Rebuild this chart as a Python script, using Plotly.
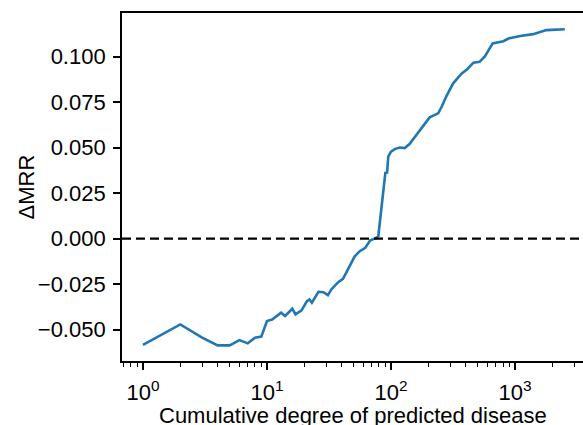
import plotly.graph_objects as go

degree = [1, 2, 3, 4, 5, 6, 7, 8, 9, 10, 11, 13, 14, 16, 17, 19, 21, 22, 23, 26,
          28.5, 31, 33, 37.5, 41, 45, 51, 56, 62, 68, 74, 79, 80.5, 82, 84, 87, 90,
          93, 95, 100, 108, 118, 129, 141, 156, 171, 184, 205, 240, 256, 280, 317,
          372, 409, 462, 518, 573, 660, 806, 885, 1100, 1400, 1790, 2520]
delta_mrr = [-0.0584, -0.0471, -0.0544, -0.0586, -0.0586, -0.0557, -0.0575, -0.0544,
             -0.0538, -0.0453, -0.0444, -0.0407, -0.0425, -0.0385, -0.0416, -0.0394,
             -0.0343, -0.0334, -0.0352, -0.0292, -0.0294, -0.0310, -0.0279, -0.0239,
             -0.0221, -0.0166, -0.0097, -0.0069, -0.0051, -0.0009, 0.0000, 0.0013,
             0.0067, 0.0120, 0.0180, 0.0250, 0.0360, 0.0363, 0.0450, 0.0478, 0.0493,
             0.0500, 0.0497, 0.0519, 0.0560, 0.0597, 0.0624, 0.0666, 0.0688, 0.0724,
             0.0783, 0.0853, 0.0907, 0.0929, 0.0966, 0.0971, 0.1002, 0.1072, 0.1084,
             0.1099, 0.1113, 0.1123, 0.1145, 0.1150]

major_x = [1, 10, 100, 1000]
major_x_text = ["10<sup>0</sup>", "10<sup>1</sup>", "10<sup>2</sup>", "10<sup>3</sup>"]
minor_x = [m * 10 ** e for e in range(-1, 4) for m in range(2, 10)]
minor_x = [v for v in minor_x if 0.68 < v < 3500 and v not in major_x]

x_title = "Cumulative degree of predicted disease"
y_title = "ΔMRR"

font = "Liberation Sans, Arial, sans-serif"
fs = 22

fig = go.Figure()
fig.add_trace(go.Scatter(x=degree, y=delta_mrr, mode="lines",
                         line=dict(color="#1f77b4", width=2.6)))
fig.add_shape(type="line", xref="paper", yref="y", x0=0, x1=1, y0=0, y1=0,
              line=dict(color="black", width=2.4, dash="9px,5px"))

fig.update_layout(
    width=583, height=425,
    margin=dict(l=122, r=0, t=13, b=64),
    paper_bgcolor="white", plot_bgcolor="white",
    showlegend=False,
    font=dict(family=font, size=fs, color="black"),
)
fig.add_annotation(text=x_title, xref="paper", yref="paper", x=0.5, y=0,
                   xanchor="center", yanchor="top", yshift=-40, showarrow=False,
                   font=dict(size=fs), xshift=-(583 - 122) / 2 + (353 - 122))
fig.add_annotation(text=y_title, xref="paper", yref="paper", x=0, y=0.5,
                   xanchor="center", yanchor="middle", xshift=-96.5, textangle=-90,
                   showarrow=False, font=dict(size=fs))
fig.update_xaxes(
    type="log", range=[-0.169, 3.548], automargin=False,
    tickmode="array", tickvals=major_x, ticktext=major_x_text,
    ticks="outside", ticklen=7, tickwidth=1.5, tickcolor="black",
    minor=dict(tickmode="array", tickvals=minor_x, ticks="outside",
               ticklen=4, tickwidth=1.2, tickcolor="black", showgrid=False),
    showline=True, linecolor="black", linewidth=1.8, mirror=True,
    showgrid=False, zeroline=False,
    tickfont=dict(size=fs), ticklabelstandoff=4,
)
fig.update_yaxes(
    range=[-0.0672, 0.1239], automargin=False,
    tickmode="linear", tick0=0, dtick=0.025, tickformat=".3f",
    ticks="outside", ticklen=7, tickwidth=1.5, tickcolor="black",
    showline=True, linecolor="black", linewidth=1.8,
    showgrid=False, zeroline=False,
    tickfont=dict(size=fs), ticklabelstandoff=3,
)

fig.write_html("out.html")
